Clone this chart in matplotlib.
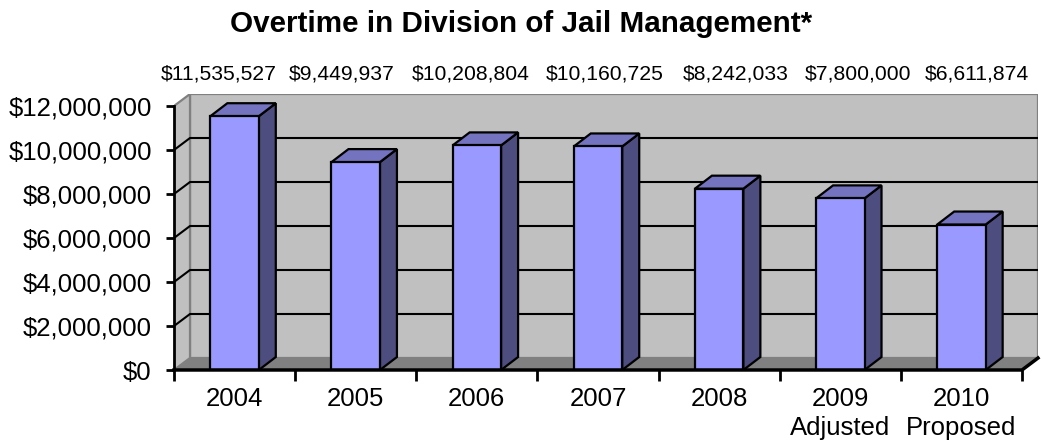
import matplotlib
matplotlib.use("Agg")
import matplotlib.pyplot as plt
from matplotlib.patches import Polygon

plt.rcParams['font.family'] = ['Liberation Sans', 'DejaVu Sans']

# overtime spending per year
years = ['2004', '2005', '2006', '2007', '2008', '2009\nAdjusted', '2010\nProposed']
overtime = [11535527, 9449937, 10208804, 10160725, 8242033, 7800000, 6611874]
yticks = [0, 2000000, 4000000, 6000000, 8000000, 10000000, 12000000]

# value label centres across the top (pixels)
label_x_px = [219, 341.5, 471, 605, 735.5, 858.5, 976.5]

W, H = 1042, 443
fig = plt.figure(figsize=(W / 100, H / 100), dpi=100)

ymax = 12000000
n = len(years)
px_x = 848 / n            # pixels per category
px_y = 264 / ymax         # pixels per dollar
dx = 16 / px_x            # wall depth offset (x units)
dy = 12 / px_y            # wall depth offset (dollars)
bdx = 17 / px_x           # bar depth
bdy = 13 / px_y
bw = 0.4                  # bar width

left, right, bottom, top = 174, 1038, 370, 94
ax = fig.add_axes([left / W, 1 - bottom / H, (right - left) / W, (bottom - top) / H])
ax.set_xlim(0, n + dx)
ax.set_ylim(0, ymax + dy)
for s in ax.spines.values():
    s.set_visible(False)

wall = '#C0C0C0'
edge = '#808080'

# back wall, side wall, floor
ax.add_patch(Polygon([(dx, dy), (n + dx, dy), (n + dx, ymax + dy), (dx, ymax + dy)],
                     closed=True, fc=wall, ec=edge, lw=1.6, zorder=1))
ax.add_patch(Polygon([(0, 0), (dx, dy), (dx, ymax + dy), (0, ymax)],
                     closed=True, fc=wall, ec=edge, lw=1.6, zorder=1))
ax.add_patch(Polygon([(0, 0), (n, 0), (n + dx, dy), (dx, dy)],
                     closed=True, fc='#808080', ec='none', zorder=1.5))

# gridlines on both walls
for t in yticks[1:-1]:
    ax.plot([0, dx, n + dx], [t, t + dy, t + dy], color='black', lw=1.5, zorder=2,
            solid_capstyle='butt')

# 3D bars
for i, v in enumerate(overtime):
    x0 = i + 0.5 - bw / 2
    x1 = i + 0.5 + bw / 2
    side = [(x1, 0), (x1 + bdx, bdy), (x1 + bdx, v + bdy), (x1, v)]
    topf = [(x0, v), (x1, v), (x1 + bdx, v + bdy), (x0 + bdx, v + bdy)]
    front = [(x0, 0), (x1, 0), (x1, v), (x0, v)]
    for pts, c in [(side, '#4D4D80'), (topf, '#7373BF'), (front, '#9999FF')]:
        ax.add_patch(Polygon(pts, closed=True, fc=c, ec='black', lw=1.6,
                             joinstyle='miter', zorder=3))

# front axes lines
ax.plot([0, 0], [0, ymax], color='black', lw=2, zorder=4, clip_on=False)
ax.plot([0, n, n + dx], [0, 0, dy], color='black', lw=2.5, zorder=4, clip_on=False)

ax.set_yticks(yticks)
ax.set_yticklabels(['${:,}'.format(t) for t in yticks])
ax.tick_params(axis='y', length=6, width=2, pad=10, labelsize=18.5)

ax.set_xticks(range(n + 1))
ax.set_xticklabels([])
ax.set_xticks([i + 0.5 for i in range(n)], minor=True)
ax.set_xticklabels(years, minor=True)
ax.tick_params(axis='x', which='major', length=8, width=2, direction='out')
ax.tick_params(axis='x', which='minor', length=0, pad=12.5, labelsize=18.5)
for lbl in ax.get_xticklabels(minor=True):
    lbl.set_multialignment('center')
    lbl.set_linespacing(1.25)

# value labels
for xp, v in zip(label_x_px, overtime):
    fig.text(xp / W, 1 - 79 / H, '${:,}'.format(v), ha='center', va='baseline',
             fontsize=15.2)

fig.text(0.5, 1 - 32 / H, 'Overtime in Division of Jail Management*', ha='center',
         va='baseline', fontsize=21.3, fontweight='bold')

fig.savefig('out.png', dpi=100)
